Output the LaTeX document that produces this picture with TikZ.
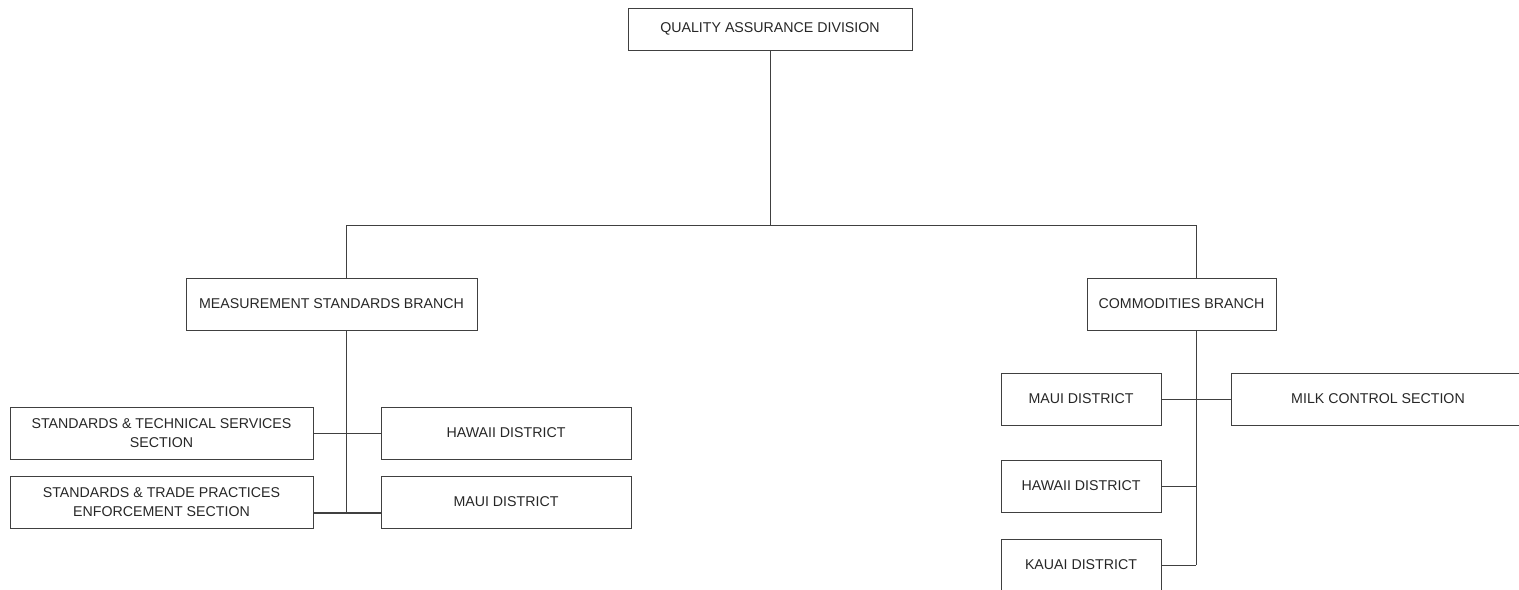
\documentclass[tikz,border=0pt]{standalone}
\usepackage{fontspec}
\setmainfont{Liberation Sans}

\begin{document}
\begin{tikzpicture}[x=0.5pt,y=-0.5pt,
    box/.style={draw=black!75,line width=0.5pt,rectangle,inner sep=0pt,outer sep=0pt,
      align=center,text=black!85,font=\fontsize{7.1}{9.6}\selectfont},
    link/.style={draw=black!75,line width=0.5pt}]
    %\draw (0,0) grid[step=100] (1519,589);
      \useasboundingbox (0,0) rectangle (1519,589);
      \node[box,minimum width=142pt,minimum height=21pt] (qad) at (770,29) {QUALITY ASSURANCE DIVISION};
      \node[box,minimum width=145.5pt,minimum height=26pt] (msb) at (331.5,304) {MEASUREMENT STANDARDS BRANCH};
      \node[box,minimum width=94.5pt,minimum height=26pt] (cb) at (1181.5,304) {COMMODITIES BRANCH};
      % Boxes MSB
      \node[box,minimum width=151.5pt,minimum height=26pt] (stss) at (161.5,433) {STANDARDS \& TECHNICAL SERVICES\\SECTION};
      \node[box,minimum width=125pt,minimum height=26pt] (hawL) at (506,433) {HAWAII DISTRICT};
      \node[box,minimum width=151.5pt,minimum height=26pt] (stpe) at (161.5,502) {STANDARDS \& TRADE PRACTICES\\ENFORCEMENT SECTION};
      \node[box,minimum width=125pt,minimum height=26pt] (mauiL) at (506,502) {MAUI DISTRICT};
      % Boxes CB
      \node[box,minimum width=80pt,minimum height=26pt] (mauiR) at (1081,399) {MAUI DISTRICT};
      \node[box,minimum width=147pt,minimum height=26pt] (milk) at (1378,399) {MILK CONTROL SECTION};
      \node[box,minimum width=80pt,minimum height=26pt] (hawR) at (1081,486) {HAWAII DISTRICT};
      \node[box,minimum width=80pt,minimum height=26pt] (kauai) at (1081,565) {KAUAI DISTRICT};
      % Joints
      \coordinate (bus) at (770,225);
      \coordinate (msbjoint) at (346,225);
      \coordinate (cbjoint) at (1196,225);
      \coordinate (msbend) at (346,513);
      \coordinate (cbend) at (1196,565);
      % Links QAD
      \draw[link] (qad.south) -- (bus);
      \draw[link] (msbjoint) -- (cbjoint);
      \draw[link] (msbjoint) -- (msbjoint |- msb.north);
      \draw[link] (cbjoint) -- (cbjoint |- cb.north);
      % Links MSB
      \draw[link] (msbjoint |- msb.south) -- (msbend);
      \draw[link] (stss.east) -- (hawL.west);
      \draw[link,line width=0.9pt] (stpe.east |- msbend) -- (mauiL.west |- msbend);
      % Links CB
      \draw[link] (cbjoint |- cb.south) -- (cbend);
      \draw[link] (mauiR.east) -- (milk.west);
      \draw[link] (hawR.east) -- (hawR.east -| cbend);
      \draw[link] (kauai.east) -- (cbend);
    \end{tikzpicture}
\end{document}
